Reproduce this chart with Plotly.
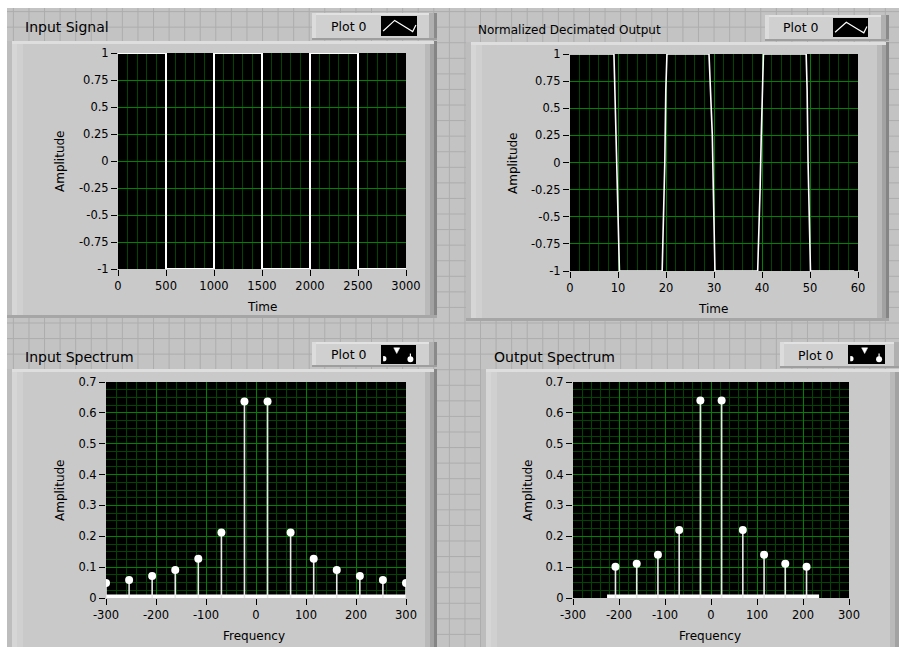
import plotly.graph_objects as go

# ---------------- data ----------------
in_time = [0, 500, 500, 1000, 1000, 1500, 1500, 2000, 2000, 2500, 2500, 3000]
in_amp = [1, 1, -1, -1, 1, 1, -1, -1, 1, 1, -1, -1]

out_time = [0, 9.15, 9.3, 9.6, 9.95, 10.15, 10.3,
            19.2, 19.4, 19.75, 19.96, 20.2,
            28.96, 29.2, 29.65, 29.86, 30.07, 30.2,
            39.1, 39.3, 39.6, 39.85, 40.1, 40.3,
            49.2, 49.4, 49.6, 49.9, 50.1, 59.2]
out_amp = [1, 1, 0.75, 0.25, -0.25, -0.75, -1,
           -1, -0.67, 0, 0.67, 1,
           1, 0.75, 0.25, -0.25, -0.75, -1,
           -1, -0.75, -0.25, 0.25, 0.75, 1,
           1, 0.67, 0, -0.67, -1, -1]

in_freq = [-300, -253.8, -207.7, -161.5, -115.4, -69.2, -23.1,
           23.1, 69.2, 115.4, 161.5, 207.7, 253.8, 300]
in_mag = [0.049, 0.058, 0.071, 0.091, 0.127, 0.212, 0.637,
          0.637, 0.212, 0.127, 0.091, 0.071, 0.058, 0.049]
in_base_freq = [-300, 300]

out_freq = [-207.7, -161.5, -115.4, -69.2, -23.1, 23.1, 69.2, 115.4, 161.5, 207.7]
out_mag = [0.101, 0.111, 0.140, 0.220, 0.640, 0.640, 0.220, 0.140, 0.111, 0.101]
out_base_freq = [-226, 235]

amp_ticks = [-1, -0.75, -0.5, -0.25, 0, 0.25, 0.5, 0.75, 1]
amp_labels = ['-1', '-0.75', '-0.5', '-0.25', '0', '0.25', '0.5', '0.75', '1']
in_time_ticks = [0, 500, 1000, 1500, 2000, 2500, 3000]
out_time_ticks = [0, 10, 20, 30, 40, 50, 60]
freq_ticks = [-300, -200, -100, 0, 100, 200, 300]
mag_ticks = [0, 0.1, 0.2, 0.3, 0.4, 0.5, 0.6, 0.7]
mag_labels = ['0', '0.1', '0.2', '0.3', '0.4', '0.5', '0.6', '0.7']

panel_titles = ['Input Signal', 'Normalized Decimated Output', 'Input Spectrum', 'Output Spectrum']
x_titles = ['Time', 'Time', 'Frequency', 'Frequency']
legend_name = 'Plot 0'

# ---------------- geometry helpers ----------------
W, H = 899, 647
def px(x):
    return x / W
def py(y):
    return 1 - y / H

FONT = 'DejaVu Sans'
MAJ = 'rgb(0,130,0)'
MIN = 'rgb(0,70,0)'

shapes = []
annotations = []

def rect(x0, y0, x1, y1, fill, line=None, layer='below'):
    shapes.append(dict(type='rect', xref='paper', yref='paper',
                       x0=px(x0), x1=px(x1), y0=py(y1), y1=py(y0),
                       fillcolor=fill, line=dict(width=0) if line is None else line,
                       layer=layer))

def path(points, color, width=1.2, fill=None, layer='above', close=False):
    d = 'M ' + ' L '.join(f'{px(a):.5f},{py(b):.5f}' for a, b in points)
    if close:
        d += ' Z'
    s = dict(type='path', xref='paper', yref='paper', path=d,
             line=dict(color=color, width=width), layer=layer)
    if fill:
        s['fillcolor'] = fill
    shapes.append(s)

def circle(cx, cy, r, color, layer='above'):
    shapes.append(dict(type='circle', xref='paper', yref='paper',
                       x0=px(cx - r), x1=px(cx + r), y0=py(cy + r), y1=py(cy - r),
                       fillcolor=color, line=dict(width=0), layer=layer))

def text(x, y, s, size=12, xanchor='left', angle=0):
    annotations.append(dict(x=px(x), y=py(y), xref='paper', yref='paper', text=s,
                            showarrow=False, xanchor=xanchor, yanchor='middle',
                            textangle=angle, font=dict(family=FONT, size=size, color='black')))

# ---------------- background grid ----------------
BG = '#c3c3c3'
GL = '#adadad'
k = 0
while 13.4 + 15.57 * k < W:
    x = 13.4 + 15.57 * k
    shapes.append(dict(type='line', xref='paper', yref='paper', x0=px(x), x1=px(x),
                       y0=0, y1=1, line=dict(color=GL, width=1), layer='below'))
    k += 1
k = 0
while 11.6 + 15.57 * k < H:
    y = 11.6 + 15.57 * k
    shapes.append(dict(type='line', xref='paper', yref='paper', x0=0, x1=1,
                       y0=py(y), y1=py(y), line=dict(color=GL, width=1), layer='below'))
    k += 1
rect(0, 0, W, 8, 'white')
rect(0, 0, 7, H, 'white')

# ---------------- panels ----------------
def panel(x0, y0, x1, y1):
    rect(x0, y0, x1, y1, '#c9c9c9')
    rect(x0, y0, x1, y0 + 3, '#dedede')
    rect(x0, y0, x0 + 5, y1, '#bdbdbd')
    rect(x0 + 5, y0 + 3, x0 + 10, y1 - 3, '#d6d6d6')
    rect(x0 + 10, y0 + 3, x0 + 16, y1 - 3, '#d0d0d0')
    rect(x1 - 12, y0 + 3, x1 - 7, y1, '#b9b9b9')
    rect(x1 - 7, y0 + 3, x1 - 3, y1, '#a2a2a2')
    rect(x1 - 3, y0, x1, y1, '#858585')
    rect(x0, y1 - 3, x1, y1, '#a6a6a6')

def legend_box(x0, y0, x1, y1, ix0, iy0, ix1, iy1, kind):
    rect(x0, y0, x1, y1, '#d0d0d0')
    rect(x0, y0, x1, y0 + 2, '#e2e2e2')
    rect(x0, y0, x0 + 4, y1, '#dcdcdc')
    rect(x1 - 8, y0, x1 - 3, y1, '#b0b0b0')
    rect(x1 - 3, y0, x1, y1, '#8a8a8a')
    rect(x0, y1 - 2, x1, y1, '#9e9e9e')
    rect(ix0, iy0, ix1, iy1, 'black', layer='above')
    w = ix1 - ix0
    h = iy1 - iy0
    if kind == 'line':
        pts = [(ix0 + 0.06 * w, iy0 + 0.75 * h), (ix0 + 0.38 * w, iy0 + 0.22 * h),
               (ix0 + 0.72 * w, iy0 + 0.6 * h), (ix0 + 0.88 * w, iy0 + 0.78 * h),
               (ix0 + 0.97 * w, iy0 + 0.45 * h)]
        path(pts, 'white', 1.2)
    else:
        circle(ix0 + 0.08 * w, iy0 + 0.72 * h, 2.6, 'white')
        rect(ix0, iy0 + 0.3 * h, ix0 + 0.06 * w, iy1, 'black', layer='above')
        cx = ix0 + 0.45 * w
        path([(cx - 3, iy0 + 0.15 * h), (cx + 3, iy0 + 0.15 * h), (cx, iy0 + 0.45 * h)],
             'white', 0.5, fill='white', close=True)
        path([(ix0 + 0.84 * w, iy0 + 0.45 * h), (ix0 + 0.84 * w, iy0 + 0.7 * h)], 'white', 1.2)
        circle(ix0 + 0.84 * w, iy0 + 0.75 * h, 3, 'white')
    text((x0 + ix0) / 2 + 2, (y0 + y1) / 2, legend_name, size=12.5, xanchor='center')

panel(7, 41, 437, 318)
panel(466, 42, 889, 321)
panel(7, 369, 437, 650)
panel(481, 369, 902, 650)

legend_box(312, 13, 437, 40, 381, 16, 417, 36, 'line')
legend_box(765, 15, 889, 41, 833, 18, 868, 37, 'line')
legend_box(312, 342, 437, 367, 381, 345, 416, 364, 'stem')
legend_box(780, 342, 902, 368, 848, 345, 885, 364, 'stem')

text(23, 27, panel_titles[0], 14)
text(476, 30, panel_titles[1], 12)
text(23, 357, panel_titles[2], 14)
text(492, 357, panel_titles[3], 14)

text(60, 161, 'Amplitude', 12, 'center', -90)
text(262, 307, x_titles[0], 12, 'center')
text(513, 163, 'Amplitude', 12, 'center', -90)
text(713, 309, x_titles[1], 12, 'center')
text(60, 490, 'Amplitude', 12, 'center', -90)
text(254, 636, x_titles[2], 12, 'center')
text(528, 490, 'Amplitude', 12, 'center', -90)
text(710, 636, x_titles[3], 12, 'center')

# ---------------- plot areas ----------------
areas = [(118, 53, 406, 269), (570, 54, 858, 271), (106, 382, 406, 598), (573, 382, 849, 598)]
for (x0, y0, x1, y1) in areas:
    rect(x0, y0, x1, y1, 'black')

fig = go.Figure()

fig.add_trace(go.Scatter(x=in_time, y=in_amp, mode='lines', line=dict(color='white', width=2),
                         xaxis='x', yaxis='y', showlegend=False, hoverinfo='skip'))
fig.add_trace(go.Scatter(x=out_time, y=out_amp, mode='lines', line=dict(color='white', width=1.6),
                         xaxis='x2', yaxis='y2', showlegend=False, hoverinfo='skip'))

def stems(freq, mag, base, ax):
    xs, ys = [], []
    for f, m in zip(freq, mag):
        xs += [f, f, None]
        ys += [0, m, None]
    fig.add_trace(go.Scatter(x=base, y=[0] * len(base), mode='lines',
                             line=dict(color='white', width=7),
                             xaxis='x' + ax, yaxis='y' + ax, showlegend=False, hoverinfo='skip'))
    fig.add_trace(go.Scatter(x=xs, y=ys, mode='lines', line=dict(color='#e8e8e8', width=1.6),
                             xaxis='x' + ax, yaxis='y' + ax, showlegend=False, hoverinfo='skip'))
    fig.add_trace(go.Scatter(x=freq, y=mag, mode='markers',
                             marker=dict(color='white', size=8, line=dict(width=0)),
                             xaxis='x' + ax, yaxis='y' + ax, showlegend=False, hoverinfo='skip'))

stems(in_freq, in_mag, in_base_freq, '3')
stems(out_freq, out_mag, out_base_freq, '4')

tickfont = dict(family=FONT, size=11.5, color='black')

def axes(i, xr, xt, xdt_minor, yr, yt, ytext, ydt_minor):
    x0, y0, x1, y1 = areas[i]
    sfx = '' if i == 0 else str(i + 1)
    xa = dict(domain=[px(x0), px(x1)], range=xr, tickmode='array', tickvals=xt,
              ticktext=[str(v) for v in xt], ticks='outside', ticklen=6, tickwidth=1,
              tickcolor='black', showgrid=True, gridcolor=MAJ, gridwidth=1, zeroline=False,
              showline=False, tickfont=tickfont, anchor='y' + sfx, fixedrange=True,
              automargin=False,
              minor=dict(tickmode='linear', tick0=0, dtick=xdt_minor, showgrid=True,
                         gridcolor=MIN, gridwidth=1, ticks=''))
    ya = dict(domain=[py(y1), py(y0)], range=yr, tickmode='array', tickvals=yt,
              ticktext=ytext, ticks='outside', ticklen=6, tickwidth=1, tickcolor='black',
              showgrid=True, gridcolor=MAJ, gridwidth=1, zeroline=False, showline=False,
              tickfont=tickfont, anchor='x' + sfx, fixedrange=True, automargin=False)
    if ydt_minor:
        ya['minor'] = dict(tickmode='linear', tick0=0, dtick=ydt_minor, showgrid=True,
                           gridcolor=MIN, gridwidth=1, ticks='')
    fig.update_layout({'xaxis' + sfx: xa, 'yaxis' + sfx: ya})

axes(0, [0, 3000], in_time_ticks, 100, [-1, 1], amp_ticks, amp_labels, None)
axes(1, [0, 60], out_time_ticks, 2, [-1, 1], amp_ticks, amp_labels, None)
axes(2, [-300, 300], freq_ticks, 20, [0, 0.7], mag_ticks, mag_labels, 0.025)
axes(3, [-300, 300], freq_ticks, 20, [0, 0.7], mag_ticks, mag_labels, 0.025)

fig.update_layout(width=W, height=H, autosize=False,
                  margin=dict(l=0, r=0, t=0, b=0, pad=0, autoexpand=False),
                  paper_bgcolor=BG, plot_bgcolor='black', shapes=shapes,
                  annotations=annotations, showlegend=False, font=dict(family=FONT))

fig.write_html('out.html', config={'displayModeBar': False},
               post_script="document.body.style.margin='0';document.body.style.padding='0';")
